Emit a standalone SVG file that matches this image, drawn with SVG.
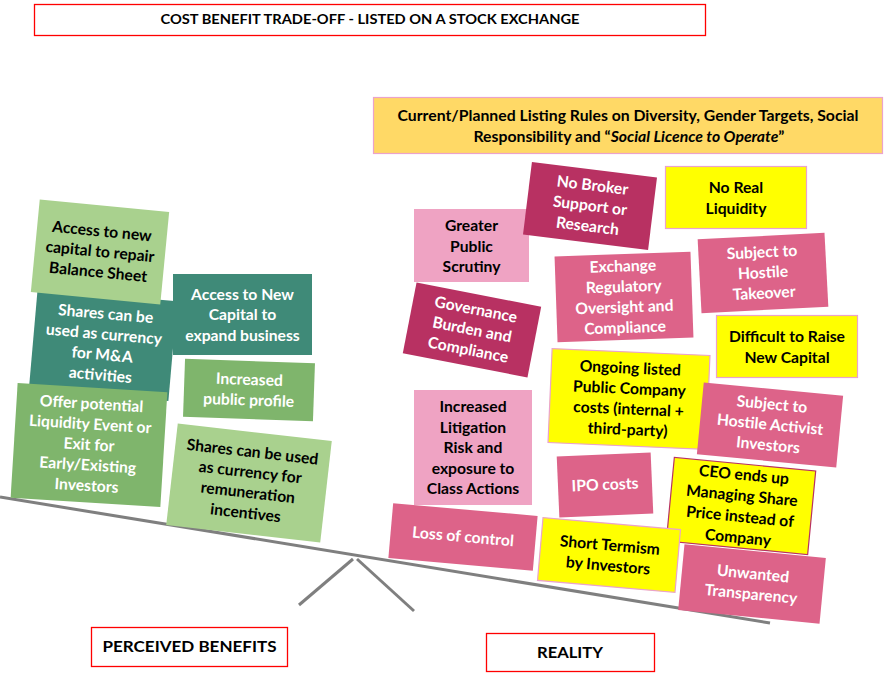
<svg xmlns="http://www.w3.org/2000/svg" width="889" height="682" viewBox="0 0 889 682">
<style>
  text { font-family: "Lato", "Liberation Sans", sans-serif; font-weight: 700; font-size: 15.7px; text-anchor: middle; }
  .w { fill: #FFFFFF; }
  .k { fill: #000000; }
  .lg { fill: #A9D18E; }
  .tl { fill: #3F8A78; }
  .mg { fill: #7FB56C; }
  .cr { fill: #B83162; }
  .pk { fill: #DD6389; }
  .lp { fill: #EFA3C3; }
  .yl { fill: #FFFF00; stroke: #EBA3CB; stroke-width: 1.2; }
  .lbl { fill: #FFFFFF; stroke: #FF0000; stroke-width: 1.3; }
  .beam { stroke: #7F7F7F; stroke-width: 3; fill: none; stroke-linecap: butt; }
</style>

<g id="title">
  <rect class="lbl" x="34.5" y="4.5" width="671" height="31"/>
  <text x="370" y="24" style="font-size:14px" textLength="419" lengthAdjust="spacingAndGlyphs">COST BENEFIT TRADE-OFF - LISTED ON A STOCK EXCHANGE</text>
</g>

<g id="connectors">
  <line class="beam" x1="0" y1="497" x2="770" y2="623"/>
  <line class="beam" x1="353" y1="559" x2="299" y2="605"/>
  <line class="beam" x1="357" y1="559" x2="414" y2="611"/>
</g>

<g id="listing-rules">
  <rect x="373.5" y="97.5" width="509" height="56" fill="#FFD966" stroke="#EBA3CB" stroke-width="1.2"/>
  <text x="628" y="121" textLength="461" lengthAdjust="spacingAndGlyphs">Current/Planned Listing Rules on Diversity, Gender Targets, Social</text>
  <text x="629" y="142" textLength="311" lengthAdjust="spacingAndGlyphs">Responsibility and “<tspan font-style="italic">Social Licence to Operate</tspan>”</text>
</g>

<!-- Left: perceived benefits -->
<g id="b-mna" transform="translate(103,345) rotate(5)">
  <rect class="tl" x="-70" y="-50" width="140" height="100"/>
  <text class="w" x="0" y="-26">Shares can be</text>
  <text class="w" x="0" y="-5.5">used as currency</text>
  <text class="w" x="0" y="15">for M&amp;A</text>
  <text class="w" x="0" y="35.5">activities</text>
</g>
<g id="b-repair" transform="translate(100,252) rotate(5.5)">
  <rect class="lg" x="-65" y="-46.5" width="130" height="93"/>
  <text class="k" x="0" y="-15.5">Access to new</text>
  <text class="k" x="0" y="5">capital to repair</text>
  <text class="k" x="0" y="25.5">Balance Sheet</text>
</g>
<g id="b-expand">
  <rect class="tl" x="173" y="274" width="139" height="81"/>
  <text class="w" x="242.5" y="299.5">Access to New</text>
  <text class="w" x="242.5" y="320">Capital to</text>
  <text class="w" x="242.5" y="340.5">expand business</text>
</g>
<g id="b-liquidity" transform="translate(89,445) rotate(3.5)">
  <rect class="mg" x="-75" y="-57.5" width="150" height="115"/>
  <text class="w" x="0" y="-36">Offer potential</text>
  <text class="w" x="0" y="-15.5">Liquidity Event or</text>
  <text class="w" x="0" y="5">Exit for</text>
  <text class="w" x="0" y="25.5">Early/Existing</text>
  <text class="w" x="0" y="46">Investors</text>
</g>
<g id="b-profile" transform="translate(249,390) rotate(2)">
  <rect class="mg" x="-65" y="-29" width="130" height="58"/>
  <text class="w" x="0" y="-5">Increased</text>
  <text class="w" x="0" y="15.5">public profile</text>
</g>
<g id="b-remuneration" transform="translate(249,483) rotate(6.5)">
  <rect class="lg" x="-77.5" y="-51" width="155" height="102"/>
  <text class="k" x="0" y="-26">Shares can be used</text>
  <text class="k" x="0" y="-5.5">as currency for</text>
  <text class="k" x="0" y="15">remuneration</text>
  <text class="k" x="0" y="35.5">incentives</text>
</g>

<!-- Right: reality -->
<g id="r-scrutiny">
  <rect class="lp" x="414" y="209" width="115" height="73"/>
  <text class="k" x="471.5" y="231">Greater</text>
  <text class="k" x="471.5" y="251.5">Public</text>
  <text class="k" x="471.5" y="272">Scrutiny</text>
</g>
<g id="r-broker" transform="translate(590,206) rotate(7)">
  <rect class="cr" x="-63" y="-36.5" width="126" height="73"/>
  <text class="w" x="0" y="-15.5">No Broker</text>
  <text class="w" x="0" y="5">Support or</text>
  <text class="w" x="0" y="25.5">Research</text>
</g>
<g id="r-noliquidity">
  <rect class="yl" x="665.5" y="166.5" width="141" height="62"/>
  <text class="k" x="736" y="193">No Real</text>
  <text class="k" x="736" y="213.5">Liquidity</text>
</g>
<g id="r-exchange" transform="translate(624,297) rotate(-2)">
  <rect class="pk" x="-68" y="-43" width="136" height="86"/>
  <text class="w" x="0" y="-25.5">Exchange</text>
  <text class="w" x="0" y="-5">Regulatory</text>
  <text class="w" x="0" y="15.5">Oversight and</text>
  <text class="w" x="0" y="36">Compliance</text>
</g>
<g id="r-takeover" transform="translate(763,273) rotate(-3)">
  <rect class="pk" x="-63.5" y="-37" width="127" height="74"/>
  <text class="w" x="0" y="-15.5">Subject to</text>
  <text class="w" x="0" y="5">Hostile</text>
  <text class="w" x="0" y="25.5">Takeover</text>
</g>
<g id="r-governance" transform="translate(472,330) rotate(11)">
  <rect class="cr" x="-63.5" y="-36" width="127" height="72"/>
  <text class="w" x="0" y="-15.5">Governance</text>
  <text class="w" x="0" y="5">Burden and</text>
  <text class="w" x="0" y="25.5">Compliance</text>
</g>
<g id="r-raise">
  <rect class="yl" x="716.5" y="315.5" width="141" height="62"/>
  <text class="k" x="787" y="342">Difficult to Raise</text>
  <text class="k" x="787" y="362.5">New Capital</text>
</g>
<g id="r-ongoing" transform="translate(629,399) rotate(2.5)">
  <rect class="yl" x="-79" y="-47" width="158" height="94"/>
  <text class="k" x="0" y="-25.5">Ongoing listed</text>
  <text class="k" x="0" y="-5">Public Company</text>
  <text class="k" x="0" y="15.5">costs (internal +</text>
  <text class="k" x="0" y="36">third-party)</text>
</g>
<g id="r-litigation">
  <rect class="lp" x="414" y="390" width="118" height="115"/>
  <text class="k" x="473" y="412">Increased</text>
  <text class="k" x="473" y="432.5">Litigation</text>
  <text class="k" x="473" y="453">Risk and</text>
  <text class="k" x="473" y="473.5">exposure to</text>
  <text class="k" x="473" y="494">Class Actions</text>
</g>
<g id="r-activist" transform="translate(770,425) rotate(5.5)">
  <rect class="pk" x="-70" y="-36" width="140" height="72"/>
  <text class="w" x="0" y="-15.5">Subject to</text>
  <text class="w" x="0" y="5">Hostile Activist</text>
  <text class="w" x="0" y="25.5">Investors</text>
</g>
<g id="r-ipo" transform="translate(605,485) rotate(-2.5)">
  <rect class="pk" x="-47" y="-30.5" width="94" height="61"/>
  <text class="w" x="0" y="5">IPO costs</text>
</g>
<g id="r-unwanted" transform="translate(752,584) rotate(5.5)">
  <rect class="pk" x="-71" y="-33" width="142" height="66"/>
  <text class="w" x="0" y="-5">Unwanted</text>
  <text class="w" x="0" y="15.5">Transparency</text>
</g>
<g id="r-ceo" transform="translate(741,506) rotate(5.5)">
  <rect x="-71" y="-42" width="142" height="84" fill="#FFFF00" stroke="#B83162" stroke-width="1.2"/>
  <text class="k" x="0" y="-26">CEO ends up</text>
  <text class="k" x="0" y="-5">Managing Share</text>
  <text class="k" x="0" y="16">Price instead of</text>
  <text class="k" x="0" y="37">Company</text>
</g>
<g id="r-control" transform="translate(463,537) rotate(5)">
  <rect class="pk" x="-72.5" y="-27.5" width="145" height="55"/>
  <text class="w" x="0" y="5">Loss of control</text>
</g>
<g id="r-shortterm" transform="translate(609,555) rotate(5)">
  <rect class="yl" x="-69" y="-31.5" width="138" height="63"/>
  <text class="k" x="0" y="-4.5">Short Termism</text>
  <text class="k" x="0" y="16">by Investors</text>
</g>

<g id="label-benefits">
  <rect class="lbl" x="91.5" y="627.5" width="196" height="39"/>
  <text x="189.5" y="652" style="font-size:16px" textLength="174" lengthAdjust="spacingAndGlyphs">PERCEIVED BENEFITS</text>
</g>
<g id="label-reality">
  <rect class="lbl" x="486.5" y="633.5" width="168" height="38"/>
  <text x="570" y="658" style="font-size:16px" textLength="66" lengthAdjust="spacingAndGlyphs">REALITY</text>
</g>
</svg>
